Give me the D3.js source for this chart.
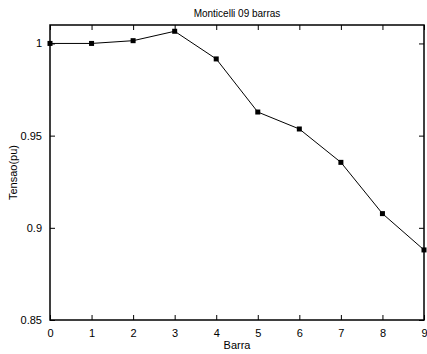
<!DOCTYPE html>
<html>
<head>
<meta charset="utf-8">
<script src="https://cdn.jsdelivr.net/npm/d3@7"></script>
<style>
body { margin: 0; background: #fff; }
svg text { font-family: "Liberation Sans", Arial, sans-serif; fill: #000; }
</style>
</head>
<body>
<svg id="chart" width="427" height="354"></svg>
<script>
// data
var barras = [0, 1, 2, 3, 4, 5, 6, 7, 8, 9];
var tensao = [1.0, 1.0, 1.0015, 1.0066, 0.9916, 0.9628, 0.9536, 0.9355, 0.9077, 0.888];
var xTicks = [0, 1, 2, 3, 4, 5, 6, 7, 8, 9];
var yTicks = [0.85, 0.9, 0.95, 1];

var svg = d3.select("#chart"),
    pLeft = 50, pRight = 424, pTop = 25, pBottom = 320;

var x = d3.scaleLinear().domain([0, 9]).range([pLeft, pRight]);
var y = d3.scaleLinear().domain([0.85, 1.01]).range([pBottom, pTop]);

// axes, ticks pointing inward like matlab
svg.append("g")
    .attr("transform", "translate(0," + pBottom + ")")
    .call(d3.axisBottom(x).tickValues(xTicks).tickSizeInner(-5).tickSizeOuter(0).tickPadding(9).tickFormat(d3.format("d")));
svg.append("g")
    .attr("transform", "translate(0," + pTop + ")")
    .call(d3.axisTop(x).tickValues(xTicks).tickSizeInner(-5).tickSizeOuter(0).tickFormat(""));
svg.append("g")
    .attr("transform", "translate(" + pLeft + ",0)")
    .call(d3.axisLeft(y).tickValues(yTicks).tickSizeInner(-5).tickSizeOuter(0).tickPadding(8).tickFormat(function(d) { return String(+d.toFixed(2)); }));
svg.append("g")
    .attr("transform", "translate(" + pRight + ",0)")
    .call(d3.axisRight(y).tickValues(yTicks).tickSizeInner(-5).tickSizeOuter(0).tickFormat(""));

svg.selectAll(".domain").remove();
svg.selectAll(".tick line").attr("stroke", "#000");
svg.selectAll(".tick text").style("font-size", "11px").style("font-family", "Liberation Sans, Arial, sans-serif");

svg.append("rect")
    .attr("x", pLeft).attr("y", pTop)
    .attr("width", pRight - pLeft).attr("height", pBottom - pTop)
    .attr("fill", "none").attr("stroke", "#000").attr("stroke-width", 1.5);

var pts = barras.map(function(b, i) { return [b, tensao[i]]; });

svg.append("path")
    .datum(pts)
    .attr("fill", "none")
    .attr("stroke", "#000")
    .attr("stroke-width", 1)
    .attr("d", d3.line().x(function(d) { return x(d[0]); }).y(function(d) { return y(d[1]); }));

svg.selectAll("rect.mk")
    .data(pts)
    .enter().append("rect")
    .attr("class", "mk")
    .attr("x", function(d) { return x(d[0]) - 2.5; })
    .attr("y", function(d) { return y(d[1]) - 2.5; })
    .attr("width", 5).attr("height", 5)
    .attr("fill", "#000");

svg.append("text")
    .attr("x", (pLeft + pRight) / 2).attr("y", 17)
    .attr("text-anchor", "middle")
    .style("font-size", "10px")
    .text("Monticelli 09 barras");

svg.append("text")
    .attr("x", (pLeft + pRight) / 2).attr("y", 349)
    .attr("text-anchor", "middle")
    .style("font-size", "11px")
    .text("Barra");

svg.append("text")
    .attr("transform", "translate(17," + (pTop + pBottom) / 2 + ") rotate(-90)")
    .attr("text-anchor", "middle")
    .style("font-size", "11px")
    .text("Tensao(pu)");
</script>
</body>
</html>
